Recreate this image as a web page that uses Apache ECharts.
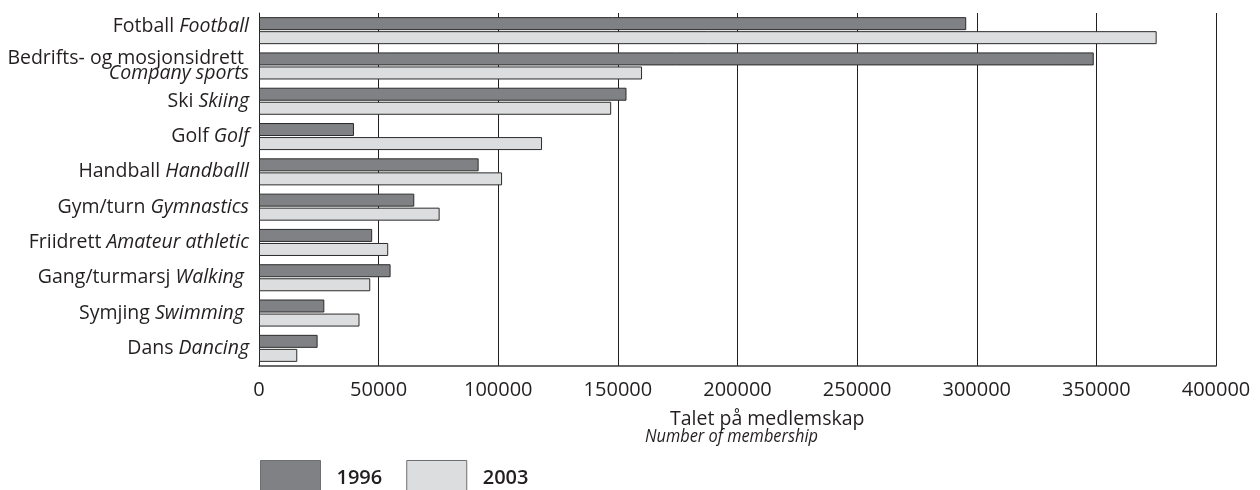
<!DOCTYPE html>
<html>
<head>
<meta charset="utf-8">
<script src="https://cdn.jsdelivr.net/npm/echarts@6/dist/echarts.min.js"></script>
<style>
html,body{margin:0;padding:0;background:#fff;}
#chart{width:1260px;height:490px;}
</style>
</head>
<body>
<div id="chart"></div>
<script>
// Data
var namesNo = ['Fotball', 'Bedrifts- og mosjonsidrett ', 'Ski', 'Golf', 'Handball', 'Gym/turn', 'Friidrett', 'Gang/turmarsj', 'Symjing', 'Dans'];
var namesEn = ['Football', 'Company sports', 'Skiing', 'Golf', 'Handballl', 'Gymnastics', 'Amateur athletic', 'Walking ', 'Swimming ', 'Dancing'];
var values1996 = [295600, 348900, 153600, 39700, 91800, 64900, 47300, 55000, 27300, 24500];
var values2003 = [375200, 160100, 147200, 118300, 101600, 75500, 54000, 46500, 42000, 16000];
var seriesNames = ['1996', '2003'];
var xTicks = [0, 50000, 100000, 150000, 200000, 250000, 300000, 350000, 400000];
var axisNameNo = 'Talet på medlemskap';
var axisNameEn = 'Number of membership';

var FONT = 'Open Sans';
var categories = namesNo.map(function (n, i) { return String(i); });

var chart = echarts.init(document.getElementById('chart'), null, {renderer: 'canvas'});
var option = {
  animation: false,
  backgroundColor: '#ffffff',
  textStyle: {fontFamily: FONT, color: '#231f20'},
  grid: {left: 259, right: 44, top: 13, bottom: 124, containLabel: false},
  legend: {
    left: 260, top: 460, padding: 0,
    itemWidth: 60, itemHeight: 36, itemGap: 24,
    icon: 'rect',
    itemStyle: {borderColor: '#6d6e71', borderWidth: 1},
    textStyle: {fontFamily: FONT, fontSize: 20, fontWeight: 600, color: '#231f20', padding: [6, 0, 0, 11]},
    data: seriesNames
  },
  xAxis: {
    type: 'value',
    min: xTicks[0], max: xTicks[xTicks.length - 1], interval: xTicks[1] - xTicks[0],
    axisLine: {show: true, lineStyle: {color: '#3a3a3a', width: 1.5}},
    axisTick: {show: false},
    splitLine: {show: true, lineStyle: {color: '#231f20', width: 1}},
    axisLabel: {fontFamily: FONT, fontSize: 20, color: '#231f20', margin: 14,
      formatter: function (v) { return String(v); }}
  },
  yAxis: {
    type: 'category',
    inverse: true,
    data: categories,
    axisLine: {show: true, lineStyle: {color: '#231f20', width: 1}},
    axisTick: {show: false},
    splitLine: {show: false},
    axisLabel: {
      margin: 10,
      align: 'right',
      formatter: function (v) {
        var i = +v;
        if (i === 1) {
          return '{n|' + namesNo[i] + '}\n{i|' + namesEn[i] + '}';
        }
        if (i === 0) {
          return '{nt|' + namesNo[i] + ' }{it|' + namesEn[i] + '}';
        }
        return '{n|' + namesNo[i] + ' }{i|' + namesEn[i] + '}';
      },
      rich: {
        n: {fontFamily: FONT, fontSize: 19.5, color: '#231f20', lineHeight: 15},
        i: {fontFamily: FONT, fontSize: 19.5, fontStyle: 'italic', color: '#231f20', lineHeight: 15},
        nt: {fontFamily: FONT, fontSize: 19.5, color: '#231f20', lineHeight: 15, padding: [0, 0, 9, 0]},
        it: {fontFamily: FONT, fontSize: 19.5, fontStyle: 'italic', color: '#231f20', lineHeight: 15, padding: [0, 0, 9, 0]}
      }
    }
  },
  series: [
    {
      name: seriesNames[0], type: 'bar', data: values1996,
      barWidth: 13, barGap: '8%',
      itemStyle: {color: '#808184', borderColor: '#2b2b2b', borderWidth: 1}
    },
    {
      name: seriesNames[1], type: 'bar', data: values2003,
      barWidth: 13, barGap: '8%',
      itemStyle: {color: '#dcdddf', borderColor: '#2b2b2b', borderWidth: 1}
    }
  ],
  graphic: [
    {type: 'text', left: 670, top: 409, style: {text: axisNameNo, fontFamily: FONT, fontSize: 19.5, fill: '#231f20'}},
    {type: 'text', x: 645, y: 428, scaleX: 0.91, style: {text: axisNameEn, fontFamily: FONT, fontSize: 18, fontStyle: 'italic', fill: '#231f20'}}
  ]
};
chart.setOption(option);
</script>
</body>
</html>
